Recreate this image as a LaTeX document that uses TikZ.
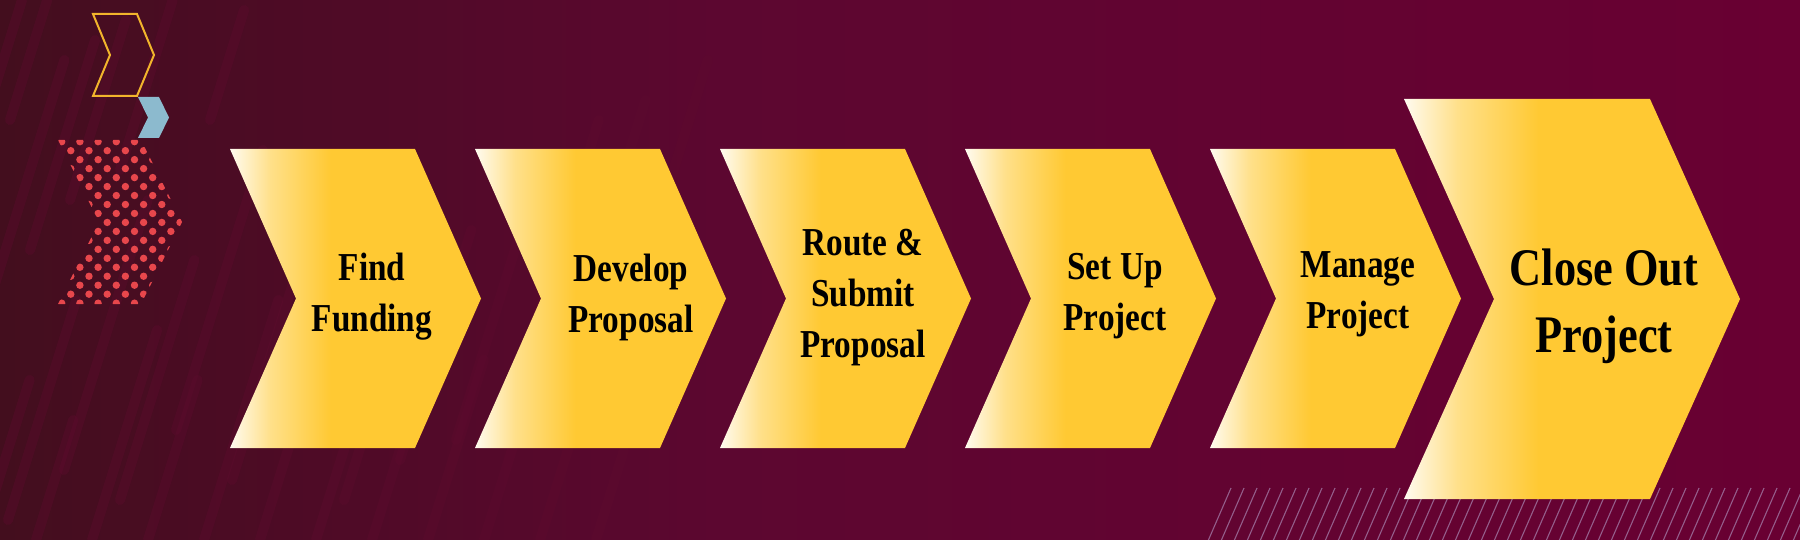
\documentclass[tikz,border=0pt]{standalone}
\usepackage{fontspec}
\setmainfont{Liberation Serif}[FakeStretch=0.84]
\definecolor{bgL}{HTML}{430E1E}
\definecolor{bgM}{HTML}{5C0730}
\definecolor{bgR}{HTML}{690032}
\definecolor{stripec}{HTML}{5E0B2E}
\definecolor{cream}{HTML}{FFFBF0}
\definecolor{creamy}{HTML}{FFE08A}
\definecolor{gold}{HTML}{FFC933}
\definecolor{outlinegold}{HTML}{F2B52C}
\definecolor{chevblue}{HTML}{8CBACE}
\definecolor{dotred}{HTML}{E8474C}
\definecolor{hatchc}{HTML}{A47CA8}
\pgfdeclarehorizontalshading{bgshade}{100bp}{color(0bp)=(bgL); color(25bp)=(bgL); color(45bp)=(bgM); color(75bp)=(bgR); color(100bp)=(bgR)}
\pgfdeclarehorizontalshading{chevshade}{100bp}{color(0bp)=(cream); color(25bp)=(cream); color(33bp)=(creamy); color(45bp)=(gold); color(100bp)=(gold)}
\newcommand\chevpath[5]{(#1,#2) -- ++(#3,0) -- ++(#5,#4/2) -- ++(-#5,#4/2) -- ++(-#3,0) -- ++(#5,-#4/2) -- cycle}
\tikzset{
  lbl/.style={align=center, inner sep=0pt, text=black, font=\fontsize{19.8}{25.5}\selectfont\bfseries},
  biglbl/.style={align=center, inner sep=0pt, text=black, font=\fontsize{26.4}{33.5}\selectfont\bfseries},
  stripe/.style={draw=stripec, opacity=0.38, line width=5pt, line cap=round},
  hatch/.style={draw=hatchc, opacity=0.75, line width=0.55pt},
}
\begin{document}
\begin{tikzpicture}[x=0.5pt,y=-0.5pt]
\useasboundingbox (0,0) rectangle (1800,540);
% background
\shade[shading=bgshade] (0,0) rectangle (1800,540);
% faint diagonal stripes on the left
\begin{scope}
\clip (0,0) rectangle (1800,540);
\foreach \x/\ya/\yb in {-20/540/380,8/520/300,36/540/420,64/470/200,92/540/330,120/500/260,148/540/380,176/430/150,204/540/300,232/480/250,260/540/400,288/420/180,316/540/330,344/500/260,372/540/420,400/460/230,428/540/360,456/440/200,484/540/400,512/400/120,540/540/430,568/350/100,596/540/450,624/330/60,-10/300/60,30/250/40,70/200/20,120/170/0,-40/200/0,210/120/10,10/120/0}
  \draw[stripe] (\x,\ya) -- ({\x+0.31*(\ya-\yb)},\yb);
\end{scope}
% hatching bottom right
\begin{scope}
\clip (1150,480) rectangle (1800,540);
\foreach \k in {0,...,46}
  \draw[hatch] ({1208+13*\k},541) -- ({1231+13*\k},488);
\end{scope}
% top-left decorations
\draw[outlinegold, line width=1pt, line join=miter] (93,14) -- (137,14) -- (154,55) -- (137,96) -- (93,96) -- (110,55) -- cycle;
\fill[chevblue] (138,97) -- (159,97) -- (169,117.5) -- (159,138) -- (138,138) -- (148,117.5) -- cycle;
\begin{scope}
\clip (58,140) -- (141,140) -- (182,222) -- (141,304) -- (58,304) -- (99,222) -- cycle;
\foreach \k in {0,...,18}
  \foreach \j in {-1,...,7}
    \fill[dotred] ({61.7+18.2*\j+9.1*mod(\k,2)},{141.7+8.97*\k}) circle[radius=3.7];
\end{scope}
% chevrons
\foreach \i in {0,...,4}
  \shade[shading=chevshade] \chevpath{230+245*\i}{149}{185}{299}{66};
\shade[shading=chevshade] \chevpath{1404}{99}{246}{400}{90};
% labels
\node[lbl] (t1) at (372,297) {Find\\Funding};
\node[lbl] (t2) at (631,297) {Develop\\Proposal};
\node[lbl] (t3) at (863,298) {Route \&\\Submit\\Proposal};
\node[lbl] (t4) at (1115,296) {Set Up\\Project};
\node[lbl] (t5) at (1358,294) {Manage\\Project};
\node[biglbl] (t6) at (1604,306) {Close Out\\Project};
\end{tikzpicture}
\end{document}
